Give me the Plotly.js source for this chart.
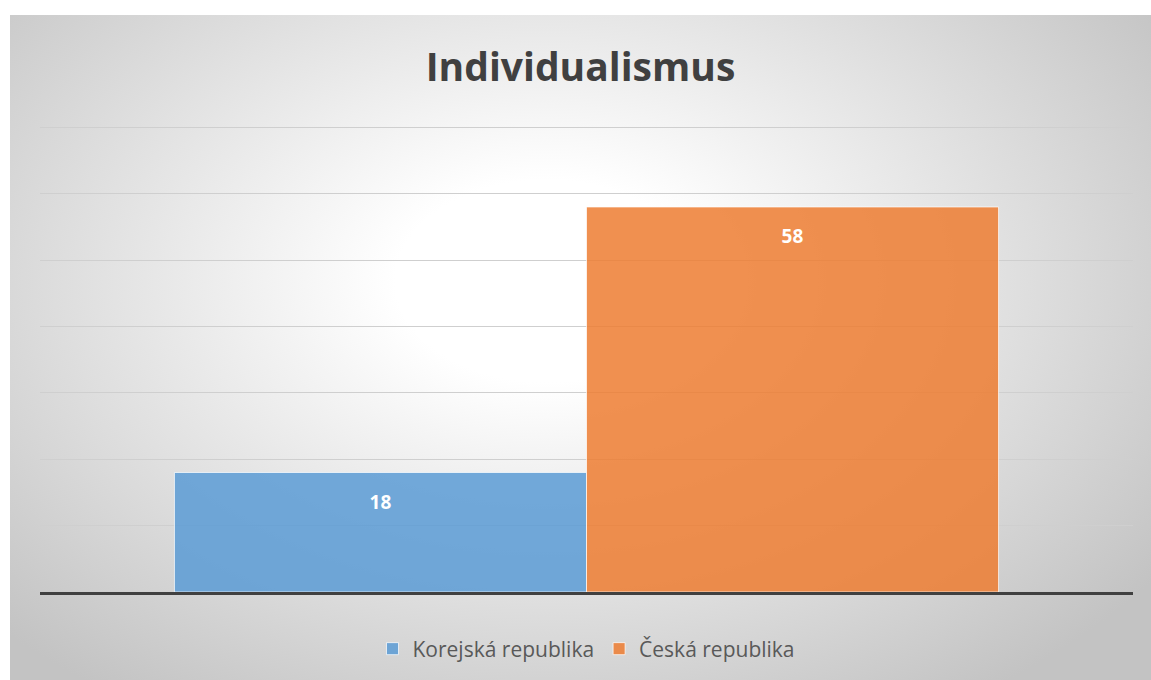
<!DOCTYPE html>
<html>
<head>
<meta charset="utf-8">
<script src="https://cdn.plot.ly/plotly-3.0.1.min.js"></script>
<style>
  html, body { margin: 0; padding: 0; background: #ffffff; width: 1151px; height: 680px; overflow: hidden; }
  #chart {
    position: absolute; left: 10px; top: 15px; width: 1141px; height: 665px;
    background: radial-gradient(ellipse 66% 76% at 47% 40%, #ffffff 0%, #ffffff 20%, #c3c3c3 100%);
  }
</style>
</head>
<body>
<div id="chart"></div>
<script>
const categories = ["Individualismus"];
const seriesNames = ["Korejská republika", "Česká republika"];
const koreaValues = [18];
const czechValues = [58];
const chartTitle = "Individualismus";

const colors = ["rgba(91,155,213,0.85)", "rgba(237,125,49,0.85)"];
const values = [koreaValues, czechValues];

const traces = seriesNames.map((name, i) => ({
  type: "bar",
  name: name,
  x: categories,
  y: values[i],
  text: values[i].map(v => String(v)),
  texttemplate: "\u00a0<br><span style=\"font-size:19px\"><b>%{text}</b></span>",
  textposition: "inside",
  insidetextanchor: "end",
  textangle: 0,
  textfont: { family: "Open Sans, sans-serif", size: 14, color: "#ffffff" },
  marker: { color: colors[i], line: { color: "rgba(255,255,255,0.7)", width: 1 } },
  hoverinfo: "none"
}));

const layout = {
  width: 1141,
  height: 665,
  paper_bgcolor: "rgba(0,0,0,0)",
  plot_bgcolor: "rgba(0,0,0,0)",
  margin: { l: 30, r: 18, t: 109, b: 87 },
  title: {
    text: "<b>" + chartTitle + "</b>",
    font: { family: "Open Sans, sans-serif", size: 39, color: "#404040" },
    x: 0.5, xanchor: "center",
    y: 1 - 52 / 665, yanchor: "middle"
  },
  barmode: "group",
  bargap: 0.246,
  bargroupgap: 0,
  xaxis: {
    showticklabels: false,
    showgrid: false,
    zeroline: false,
    showline: true,
    linecolor: "#404040",
    linewidth: 3,
    ticks: ""
  },
  yaxis: {
    range: [0, 70.5],
    tick0: 0,
    dtick: 10,
    showticklabels: false,
    showgrid: true,
    gridcolor: "#cfcfcf",
    gridwidth: 1,
    zeroline: false,
    showline: false,
    ticks: ""
  },
  showlegend: true,
  legend: {
    orientation: "h",
    x: 0.5, xanchor: "center",
    y: -(634 - 578) / (665 - 109 - 87), yanchor: "middle",
    itemwidth: 30,
    font: { family: "Open Sans, sans-serif", size: 21, color: "#595959" },
    bgcolor: "rgba(0,0,0,0)"
  }
};

Plotly.newPlot("chart", traces, layout, { displayModeBar: false, staticPlot: true });
</script>
</body>
</html>
